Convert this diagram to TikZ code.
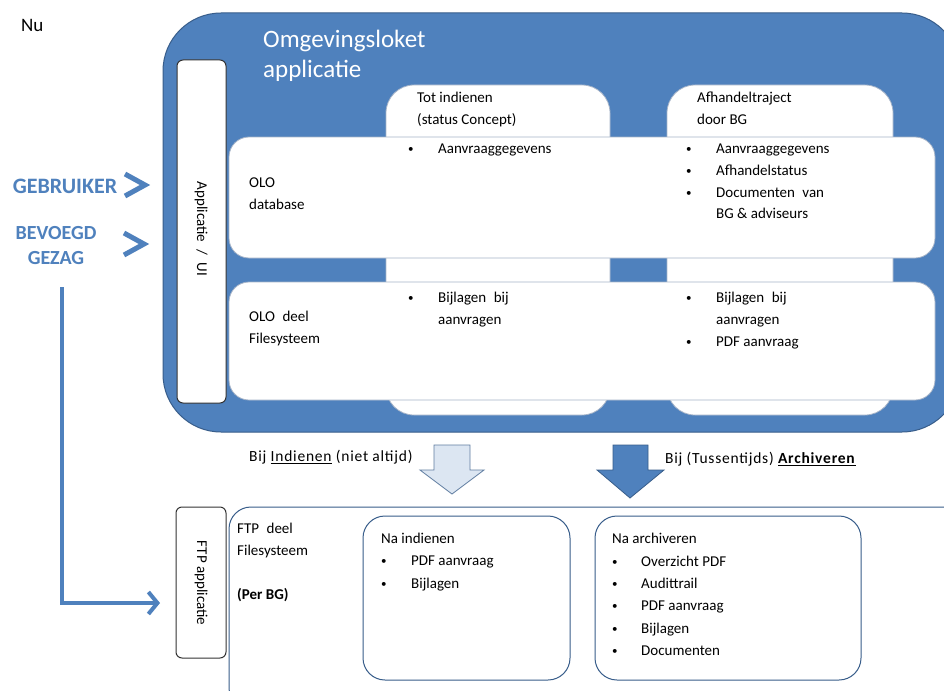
\documentclass[tikz,border=0pt]{standalone}
\usepackage{fontspec}
\setmainfont{Carlito}
\usetikzlibrary{arrows.meta,positioning,calc}
\definecolor{obl}{HTML}{4F81BD}
\definecolor{obd}{HTML}{385D8A}
\definecolor{oli}{HTML}{DCE6F2}
\definecolor{ogr}{HTML}{A6B4C8}
\newcommand{\bul}[1][30pt]{\makebox[#1][l]{\fontsize{11}{11}\selectfont\raisebox{1pt}{•}}}
\tikzset{
  every node/.style={font=\fontsize{15}{21.7}\selectfont, inner sep=0pt},
  colbox/.style={fill=white, draw=ogr, line width=0.8pt, rounded corners=28pt},
  rowbox/.style={fill=white, draw=ogr, line width=0.8pt, rounded corners=20pt},
  sidebox/.style={fill=white, draw=black!80, line width=1pt, rounded corners=6pt},
  thinbox/.style={draw=obd, line width=1pt, rounded corners=22pt},
  lbl/.style={anchor=north west, align=left},
  who/.style={font=\fontsize{20}{25}\selectfont\bfseries, text=obl, align=center},
  chev/.style={draw=obl, line width=5pt},
  arrlbl/.style={anchor=west, font=\fontsize{15.5}{20}\selectfont\addfontfeatures{LetterSpace=5}},
}
\begin{document}
\begin{tikzpicture}[x=1pt,y=-1pt]
\clip (0,0) rectangle (944,690);
\fill[white] (0,0) rectangle (944,690);

\node[anchor=west, font=\fontsize{19}{22}\selectfont] (nu) at (21,25) {Nu};

% big blue application box
\filldraw[fill=obl, draw=obd, line width=1pt, rounded corners=58pt] (163,13) rectangle (960,432);
\node[lbl, text=white, font=\fontsize{25}{30}\selectfont] (title) at (263,30) {Omgevingsloket\\applicatie};

% columns
\draw[colbox] (386,85) rectangle (610,415);
\draw[colbox] (667,85) rectangle (893,415);
\node[lbl] (c1) at (417,92) {Tot indienen\\(status Concept)};
\node[lbl] (c2) at (697,92) {Afhandeltraject\\door BG};

% rows
\draw[rowbox] (229,137) rectangle (935,258);
\draw[rowbox] (229,282) rectangle (935,400);
\node[lbl] (r1) at (249,178) {OLO\\database};
\node[lbl] (r2) at (249,311) {OLO\enspace deel\\Filesysteem};

\node[lbl] (b11) at (408,144) {\bul Aanvraaggegevens};
\node[lbl] (b21) at (686,144) {\bul Aanvraaggegevens\\\bul Afhandelstatus\\\bul Documenten\enspace van\\\hspace*{30pt}BG \& adviseurs};
\node[lbl] (b12) at (408,292) {\bul Bijlagen\enspace bij\\\hspace*{30pt}aanvragen};
\node[lbl] (b22) at (686,292) {\bul Bijlagen\enspace bij\\\hspace*{30pt}aanvragen\\\bul PDF aanvraag};

% Applicatie / UI
\draw[sidebox] (177,60) rectangle (226,403);
\node[rotate=-90] (ui) at (201,229) {Applicatie\enspace/\enspace UI};

% users
\node[who, font=\fontsize{22}{25}\selectfont\bfseries] (geb) at (65,186) {GEBRUIKER};
\node[who] (bg) at (56,246) {BEVOEGD\\GEZAG};
\draw[chev] (125,174) -- (145,185) -- (125,196);
\draw[chev] (124,233) -- (144,244) -- (124,255);

% bottom area
\draw[thinbox] (229,507) rectangle (980,710);
\draw[sidebox] (176,507) rectangle (226,658);
\node[rotate=-90] (ftp) at (201,583) {FTP applicatie};
\node[lbl, font=\fontsize{15}{22}\selectfont] (fs) at (237,523) {FTP\enspace deel\\Filesysteem\\[22pt]\textbf{(Per BG)}};

\draw[thinbox] (363,516) rectangle (570,680);
\node[lbl, font=\fontsize{15}{22.2}\selectfont] (ni) at (381,533) {Na indienen\\\bul[30pt]PDF aanvraag\\\bul[30pt]Bijlagen};
\draw[thinbox] (595,516) rectangle (861,680);
\node[lbl, font=\fontsize{15}{22.4}\selectfont] (na) at (612,533) {Na archiveren\\\bul[29pt]Overzicht PDF\\\bul[29pt]Audittrail\\\bul[29pt]PDF aanvraag\\\bul[29pt]Bijlagen\\\bul[29pt]Documenten};

% connector from BEVOEGD GEZAG to FTP applicatie
\coordinate (lstart) at (62,287);
\coordinate (ftpin) at (160,603);
\draw[obl, line width=4pt, -{Straight Barb[length=9pt,width=22pt]}] (lstart) |- (ftpin);

% transfer arrows
\filldraw[fill=oli, draw=obd!80, line width=0.8pt] (434,445) -- (470,445) -- (470,470) -- (484,470) -- (452,494) -- (420,470) -- (434,470) -- cycle;
\filldraw[fill=obl, draw=obd, line width=0.8pt] (613,445) -- (648,445) -- (648,470) -- (664,470) -- (630,498) -- (597,470) -- (613,470) -- cycle;
\node[arrlbl] (l1) at (249,457) {Bij \underline{Indienen} (niet altijd)};
\node[arrlbl] (l2) at (665,459) {Bij (Tussentijds) \underline{\textbf{Archiveren}}};
\end{tikzpicture}
\end{document}
